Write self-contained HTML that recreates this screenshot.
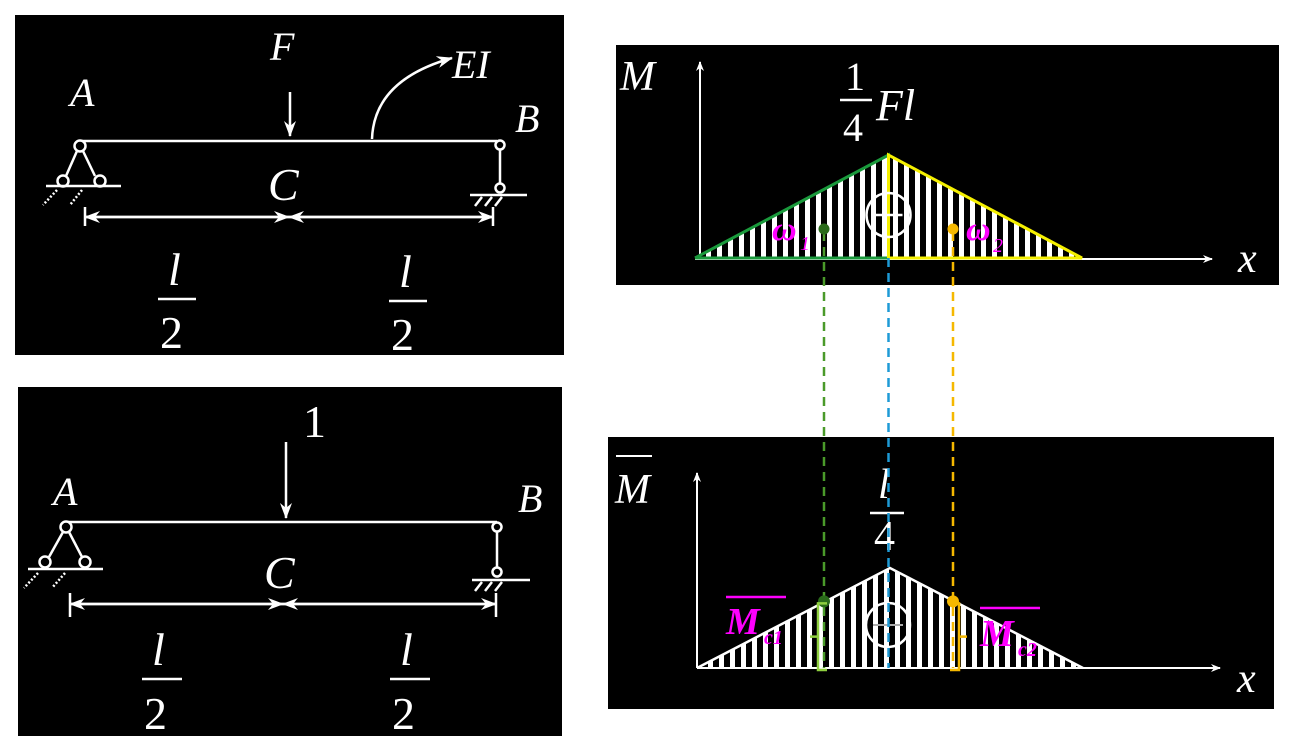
<!DOCTYPE html>
<html><head><meta charset="utf-8"><style>
html,body{margin:0;padding:0;background:#fff;}
svg{display:block;}
text{font-family:"Liberation Serif",serif;fill:#fff;font-style:italic;}
.n{font-style:normal;}
</style></head><body>
<svg id="s" width="1293" height="751" viewBox="0 0 1293 751" xmlns="http://www.w3.org/2000/svg">
<defs>
<marker id="ah" markerWidth="10" markerHeight="10" refX="9" refY="5" orient="auto" markerUnits="userSpaceOnUse"><path d="M0,1 L10,5 L0,9 L3,5z" fill="#fff"/></marker>
<marker id="ahb" markerWidth="16" markerHeight="12" refX="15" refY="6" orient="auto" markerUnits="userSpaceOnUse"><path d="M0,0 L16,6 L0,12 L5,6z" fill="#fff"/></marker>
</defs>
<rect x="15" y="15" width="549" height="340" fill="#000"/>
<rect x="18" y="387" width="544" height="349" fill="#000"/>
<rect x="616" y="45" width="663" height="240" fill="#000"/>
<rect x="608" y="437" width="666" height="272" fill="#000"/>

<g stroke="#fff" stroke-width="2.5" fill="none">
<line x1="80" y1="141" x2="497" y2="141"/>
<line x1="290" y1="92" x2="290" y2="136" marker-end="url(#ahb)"/>
<path d="M372,139 Q374,80 452,58" marker-end="url(#ahb)"/>
<circle cx="80" cy="146" r="5.5" fill="#000"/>
<line x1="77" y1="151" x2="66" y2="176"/><line x1="83" y1="151" x2="95" y2="176"/>
<circle cx="63" cy="181" r="5.5" fill="#000"/><circle cx="100" cy="181" r="5.5" fill="#000"/>
<line x1="46" y1="186" x2="121" y2="186"/>
<path d="M57,190 L43,205 M82,190 L70,205" stroke-dasharray="2,2"/>
<circle cx="500" cy="145" r="4.5" fill="#000"/>
<line x1="500" y1="150" x2="500" y2="184"/>
<circle cx="500" cy="188" r="4.5" fill="#000"/>
<line x1="470" y1="195" x2="527" y2="195"/>
<path d="M482,197 L475,206 M492,197 L485,206 M502,197 L495,206"/>
<line x1="85" y1="207" x2="85" y2="226"/><line x1="493" y1="207" x2="493" y2="226"/>
<line x1="85" y1="217" x2="289" y2="217" marker-end="url(#ahb)"/>
<line x1="289" y1="217" x2="85" y2="217" marker-end="url(#ahb)"/>
<line x1="289" y1="217" x2="493" y2="217" marker-end="url(#ahb)"/>
<line x1="493" y1="217" x2="289" y2="217" marker-end="url(#ahb)"/>
<line x1="158" y1="299" x2="196" y2="299" stroke-width="2.5"/>
<line x1="389" y1="301" x2="427" y2="301" stroke-width="2.5"/>
</g>
<text x="70" y="106" font-size="40">A</text>
<text x="270" y="60" font-size="40">F</text>
<text x="452" y="78" font-size="40">EI</text>
<text x="515" y="132" font-size="40">B</text>
<text x="268" y="200" font-size="46">C</text>
<text x="168" y="285" font-size="46">l</text>
<text x="160" y="348" font-size="46" class="n">2</text>
<text x="399" y="287" font-size="46">l</text>
<text x="391" y="350" font-size="46" class="n">2</text>

<g stroke="#fff" stroke-width="2.5" fill="none">
<line x1="66" y1="522" x2="497" y2="522"/>
<line x1="286" y1="442" x2="286" y2="518" marker-end="url(#ahb)"/>
<circle cx="66" cy="527" r="5.5" fill="#000"/>
<line x1="63" y1="532" x2="49" y2="557"/><line x1="69" y1="532" x2="82" y2="557"/>
<circle cx="45" cy="562" r="5.5" fill="#000"/><circle cx="85" cy="562" r="5.5" fill="#000"/>
<line x1="28" y1="569" x2="103" y2="569"/>
<path d="M38,573 L24,588 M65,573 L52,588" stroke-dasharray="2,2"/>
<circle cx="497" cy="527" r="4.5" fill="#000"/>
<line x1="497" y1="532" x2="497" y2="568"/>
<circle cx="497" cy="572" r="4.5" fill="#000"/>
<line x1="472" y1="580" x2="530" y2="580"/>
<path d="M482,582 L475,591 M492,582 L485,591 M502,582 L495,591"/>
<line x1="70" y1="593" x2="70" y2="617"/><line x1="496" y1="593" x2="496" y2="617"/>
<line x1="70" y1="604" x2="283" y2="604" marker-end="url(#ahb)"/>
<line x1="283" y1="604" x2="70" y2="604" marker-end="url(#ahb)"/>
<line x1="283" y1="604" x2="496" y2="604" marker-end="url(#ahb)"/>
<line x1="496" y1="604" x2="283" y2="604" marker-end="url(#ahb)"/>
<line x1="142" y1="679" x2="182" y2="679" stroke-width="2.5"/>
<line x1="390" y1="679" x2="430" y2="679" stroke-width="2.5"/>
</g>
<text x="303" y="437" font-size="46" class="n">1</text>
<text x="53" y="505" font-size="40">A</text>
<text x="518" y="512" font-size="40">B</text>
<text x="264" y="588" font-size="46">C</text>
<text x="152" y="665" font-size="46">l</text>
<text x="144" y="729" font-size="46" class="n">2</text>
<text x="400" y="665" font-size="46">l</text>
<text x="392" y="729" font-size="46" class="n">2</text>

<g stroke="#fff" stroke-width="2" fill="none">
<line x1="700" y1="259" x2="700" y2="62" marker-end="url(#ah)"/>
<line x1="695" y1="259" x2="1212" y2="259" marker-end="url(#ah)"/>
<line x1="697" y1="668" x2="697" y2="473" marker-end="url(#ah)"/>
<line x1="697" y1="668" x2="1220" y2="668" marker-end="url(#ah)"/>
<line x1="840" y1="100" x2="872" y2="100" stroke-width="2.5"/>
<line x1="870" y1="513" x2="904" y2="513" stroke-width="2.5"/>
<line x1="616" y1="456" x2="652" y2="456"/>
</g>
<text x="620" y="90" font-size="42">M</text>
<text x="845" y="90" font-size="40" class="n">1</text>
<text x="843" y="141" font-size="40" class="n">4</text>
<text x="876" y="120" font-size="44">Fl</text>
<text x="1238" y="272" font-size="42">x</text>
<text x="615" y="503" font-size="42">M</text>
<text x="878" y="498" font-size="42">l</text>
<text x="874" y="550" font-size="42" class="n">4</text>
<text x="1237" y="692" font-size="42">x</text>
<g id="charts"></g>
</svg>
<script>
// diagram data: triangle peak values at x = 0, l/2, l
const positions = [0, 0.5, 1];
const momentValues = [0, 1, 0];      // M diagram (in units of Fl/4)
const unitMomentValues = [0, 1, 0];  // M-bar diagram (in units of l/4)
const centroidPos = [1/3, 2/3];      // centroids of omega1, omega2

const NS = 'http://www.w3.org/2000/svg';
const g = document.getElementById('charts');
function mk(tag, attrs, parent) {
  const e = document.createElementNS(NS, tag);
  for (const k in attrs) e.setAttribute(k, attrs[k]);
  (parent || g).appendChild(e);
  return e;
}
const xTop = t => 695 + t * 387;
const yTop = v => 258 - v * 103;
const xBot = t => 697 + t * 386;
const yBot = v => 668 - v * 100;

function hatchTri(xf, yf, vals, id, name) {
  const pts = positions.map((p, i) => xf(p) + ',' + yf(vals[i])).join(' ');
  const cp = mk('clipPath', {id: id});
  mk('polygon', {points: pts}, cp);
  const hg = mk('g', {'clip-path': 'url(#' + id + ')'});
  
  
  for (let x = xf(0); x < xf(1); x += 11) {
    mk('rect', {x: x, y: yf(1) - 5, width: 5, height: 120, fill: '#fff'}, hg);
  }
  return pts;
}
hatchTri(xTop, yTop, momentValues, 'c1', 'moment-hatch');
const pk = momentValues[1];
const left = mk('polyline', {points: `${xTop(0)},${yTop(0)} ${xTop(0.5)},${yTop(pk)} ${xTop(0.5)},${yTop(0)} ${xTop(0)},${yTop(0)}`, fill: 'none', stroke: '#1a9a3c', 'stroke-width': 3});


const right = mk('polyline', {points: `${xTop(0.5)},${yTop(0)} ${xTop(0.5)},${yTop(pk)} ${xTop(1)},${yTop(0)} ${xTop(0.5)},${yTop(0)}`, fill: 'none', stroke: '#f5f000', 'stroke-width': 3});


hatchTri(xBot, yBot, unitMomentValues, 'c2', 'unit-moment-hatch');
const outline = mk('polyline', {points: positions.map((p, i) => xBot(p) + ',' + yBot(unitMomentValues[i])).join(' '), fill: 'none', stroke: '#fff', 'stroke-width': 2.5});



const s1 = mk('circle', {cx: xTop(0.5), cy: 215, r: 22, fill: 'none', stroke: '#fff', 'stroke-width': 2.5});


mk('line', {x1: xTop(0.5) - 14, y1: 215, x2: xTop(0.5) + 14, y2: 215, stroke: '#fff', 'stroke-width': 2.5});
const s2 = mk('circle', {cx: xBot(0.5) - 2, cy: 625, r: 22, fill: 'none', stroke: '#fff', 'stroke-width': 2.5});


mk('line', {x1: xBot(0.5) - 17, y1: 625, x2: xBot(0.5) + 13, y2: 625, stroke: '#aaa', 'stroke-width': 2});

function mbar(t) { return t <= 0.5 ? unitMomentValues[1] * t / 0.5 : unitMomentValues[1] * (1 - t) / 0.5; }
const cols = ['#4a9a2a', '#f5b800'];
const dotCol = ['#2a6a1a', '#f5b800'];
centroidPos.forEach((t, i) => {
  const xt = xTop(t);
  const dl = mk('line', {x1: xt, y1: 232, x2: xt, y2: 668, stroke: cols[i], 'stroke-width': 2.5, 'stroke-dasharray': '9,6'});
  
  
  const d1 = mk('circle', {cx: xt, cy: 229, r: 5.5, fill: dotCol[i]});
  
  
  const d2 = mk('circle', {cx: xt, cy: yBot(mbar(t)), r: 6, fill: dotCol[i]});
  
  
  const yt = yBot(mbar(t)) + 2, yb = 670;
  const bx = i === 0 ? xt - 6 : xt + 6;
  const dir = i === 0 ? -1 : 1;
  const br = mk('path', {d: `M${bx + dir * 9},${yt} L${bx},${yt} L${bx},${yb} L${bx + dir * 9},${yb} M${bx},${(yt + yb) / 2} L${bx + dir * 8},${(yt + yb) / 2}`.replace(/\+ dir/g,''), fill: 'none', stroke: i === 0 ? '#8fcf3f' : '#f5b800', 'stroke-width': 2.5});
  br.setAttribute('d', `M${bx - dir * 9},${yt} L${bx},${yt} L${bx},${yb} L${bx - dir * 9},${yb} M${bx},${(yt + yb) / 2} L${bx + dir * 8},${(yt + yb) / 2}`);
  
  
});
const xc = xTop(0.5);
const bl = mk('line', {x1: xc, y1: 258, x2: xc, y2: 668, stroke: '#1e9ad6', 'stroke-width': 2.5, 'stroke-dasharray': '9,6'});



function lbl(x, y, txt, size, name, weight) {
  const t = mk('text', {x: x, y: y, 'font-size': size, style: 'fill:#ff00ff;font-weight:' + (weight || 'normal')});
  t.textContent = txt;
  
  
  return t;
}
lbl(772, 240, 'ω', 34, 'omega1-label', 'bold');
lbl(800, 250, '1', 20, 'omega1-sub');
lbl(966, 240, 'ω', 34, 'omega2-label', 'bold');
lbl(993, 252, '2', 20, 'omega2-sub');
lbl(726, 634, 'M', 38, 'mc1-label', 'bold');
lbl(764, 644, 'c1', 20, 'mc1-sub', 'bold');
lbl(980, 646, 'M', 38, 'mc2-label', 'bold');
lbl(1018, 656, 'c2', 20, 'mc2-sub', 'bold');
const o1 = mk('line', {x1: 726, y1: 597, x2: 786, y2: 597, stroke: '#ff00ff', 'stroke-width': 2.5});


const o2 = mk('line', {x1: 980, y1: 608, x2: 1040, y2: 608, stroke: '#ff00ff', 'stroke-width': 2.5});


</script>
</body></html>
